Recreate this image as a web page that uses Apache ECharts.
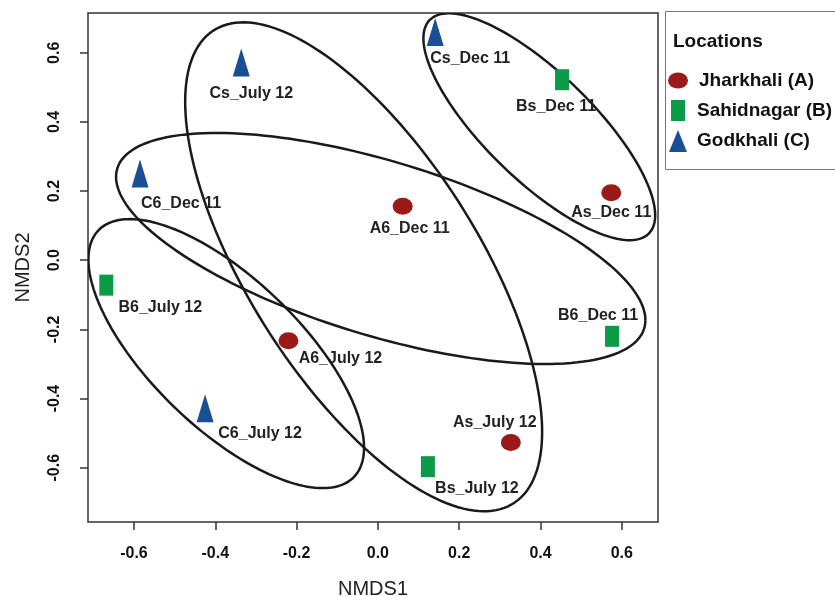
<!DOCTYPE html>
<html>
<head>
<meta charset="utf-8">
<title>NMDS</title>
<script src="https://cdn.jsdelivr.net/npm/echarts@6/dist/echarts.min.js"></script>
<style>
  html, body { margin: 0; padding: 0; background: #fff; }
  #chart { width: 835px; height: 596px; }
</style>
</head>
<body>
<div id="chart"></div>
<script>
// sample scores (NMDS1, NMDS2)
const sampleNames = ["Cs_July 12", "C6_Dec 11", "Cs_Dec 11", "Bs_Dec 11", "As_Dec 11", "A6_Dec 11",
  "A6_July 12", "B6_July 12", "C6_July 12", "B6_Dec 11", "As_July 12", "Bs_July 12"];
const nmds1 = [-0.336, -0.585, 0.141, 0.453, 0.574, 0.061, -0.220, -0.668, -0.425, 0.576, 0.327, 0.123];
const nmds2 = [0.572, 0.251, 0.660, 0.522, 0.195, 0.156, -0.233, -0.072, -0.428, -0.220, -0.527, -0.597];
const sampleLoc = [2, 2, 2, 1, 0, 0, 0, 1, 2, 1, 0, 1];

const locations = ["Jharkhali (A)", "Sahidnagar (B)", "Godkhali (C)"];
const locColors = ["#9a1a1a", "#0b9a45", "#1b4f94"];

// ellipses: centre, half width, half height, correlation (data units)
const ellCx = [0.397, -0.035, 0.007, -0.373];
const ellCy = [0.386, -0.019, 0.034, -0.270];
const ellW = [0.285, 0.439, 0.651, 0.339];
const ellH = [0.328, 0.707, 0.334, 0.389];
const ellR = [-0.78, -0.675, -0.62, -0.70];

const tickValues = [-0.6, -0.4, -0.2, 0.0, 0.2, 0.4, 0.6];

// label placement (px from marker centre)
const labelOffsets = [[10, 31], [41, 30], [35, 27], [-6, 27], [0, 20], [7, 22],
  [52, 18], [54, 22], [55, 25], [-14, -21], [-16, -20], [49, 22]];

const FONT = "'Liberation Sans', Arial, sans-serif";
const ellipsePath = "path://M0,1A1,1,0,1,1,2,1A1,1,0,1,1,0,1Z";
const symbols = [ellipsePath, "rect", "triangle"];
const symbolSizes = [[20, 17], [14, 21], [17, 28]];

const chart = echarts.init(document.getElementById("chart"));

const scatterSeries = locations.map((loc, k) => ({
  name: loc,
  type: "scatter",
  symbol: symbols[k],
  symbolSize: symbolSizes[k],
  symbolKeepAspect: false,
  itemStyle: { color: locColors[k], opacity: 1 },
  z: 3,
  label: {
    show: true,
    position: "inside",
    formatter: "{b}",
    color: "#222",
    fontFamily: FONT,
    fontWeight: "bold",
    fontSize: 16
  },
  data: sampleNames.map((n, i) => ({ n, i }))
    .filter(d => sampleLoc[d.i] === k)
    .map(d => ({
      name: d.n,
      value: [nmds1[d.i], nmds2[d.i]],
      label: { offset: labelOffsets[d.i] }
    }))
}));

const ellipseSeries = {
  type: "custom",
  clip: true,
  z: 2,
  silent: true,
  data: ellCx.map((c, i) => [c, ellCy[i], ellW[i], ellH[i], ellR[i]]),
  renderItem: (params, api) => {
    const cx = api.value(0), cy = api.value(1);
    const w = api.value(2), h = api.value(3), r = api.value(4);
    const pts = [];
    for (let s = 0; s <= 180; s++) {
      const t = (s / 180) * Math.PI * 2;
      const x = cx + w * Math.cos(t);
      const y = cy + h * (r * Math.cos(t) + Math.sqrt(1 - r * r) * Math.sin(t));
      pts.push(api.coord([x, y]));
    }
    return {
      type: "polyline",
      shape: { points: pts },
      style: { fill: null, stroke: "#1a1a1a", lineWidth: 2.5 }
    };
  }
};

const legendTops = [71, 100, 130];
const legendLefts = [668, 671, 669];
const legendPads = [6, 7, 5];

chart.setOption({
  animation: false,
  grid: {
    left: 88, top: 13, width: 570, height: 509,
    outerBoundsMode: "none",
    containLabel: false,
    show: true, borderColor: "#333", borderWidth: 1.5, backgroundColor: "transparent"
  },
  xAxis: {
    type: "value",
    min: -0.713, max: 0.689,
    name: "NMDS1",
    nameLocation: "middle",
    nameGap: 57,
    nameTextStyle: { fontFamily: FONT, fontSize: 20, color: "#222" },
    axisLine: { show: false, onZero: false },
    splitLine: { show: false },
    axisTick: { show: true, length: 8, customValues: tickValues, lineStyle: { color: "#333", width: 1.5 } },
    axisLabel: {
      customValues: tickValues,
      formatter: v => v.toFixed(1),
      margin: 24,
      fontFamily: FONT, fontWeight: "bold", fontSize: 16, color: "#111"
    }
  },
  yAxis: {
    type: "value",
    min: -0.757, max: 0.715,
    name: "NMDS2",
    nameLocation: "middle",
    nameGap: 55,
    nameTextStyle: { fontFamily: FONT, fontSize: 20, color: "#222" },
    axisLine: { show: false, onZero: false },
    splitLine: { show: false },
    axisTick: { show: true, length: 8, customValues: tickValues, lineStyle: { color: "#333", width: 1.5 } },
    axisLabel: {
      customValues: tickValues,
      formatter: v => v.toFixed(1),
      rotate: 90,
      margin: 25,
      fontFamily: FONT, fontWeight: "bold", fontSize: 16, color: "#111"
    }
  },
  legend: locations.map((loc, k) => ({
    data: [{ name: loc, icon: k === 0 ? ellipsePath : (k === 1 ? "rect" : "triangle") }],
    left: legendLefts[k],
    top: legendTops[k],
    padding: 0,
    orient: "vertical",
    selectedMode: false,
    symbolKeepAspect: false,
    itemWidth: [20, 14, 18][k],
    itemHeight: [16, 21, 22][k],
    textStyle: {
      fontFamily: FONT, fontWeight: "bold", fontSize: 19, color: "#111",
      padding: [0, 0, 0, legendPads[k]]
    }
  })),
  graphic: [
    {
      type: "rect",
      shape: { x: 665.5, y: 11.5, width: 185, height: 158 },
      style: { fill: "none", stroke: "#777", lineWidth: 1 },
      z: 1
    },
    {
      type: "text",
      x: 673, y: 42,
      style: {
        text: "Locations", fontFamily: FONT, fontWeight: "bold", fontSize: 19,
        fill: "#111", verticalAlign: "middle"
      }
    }
  ],
  series: [ellipseSeries, ...scatterSeries]
});
</script>
</body>
</html>
